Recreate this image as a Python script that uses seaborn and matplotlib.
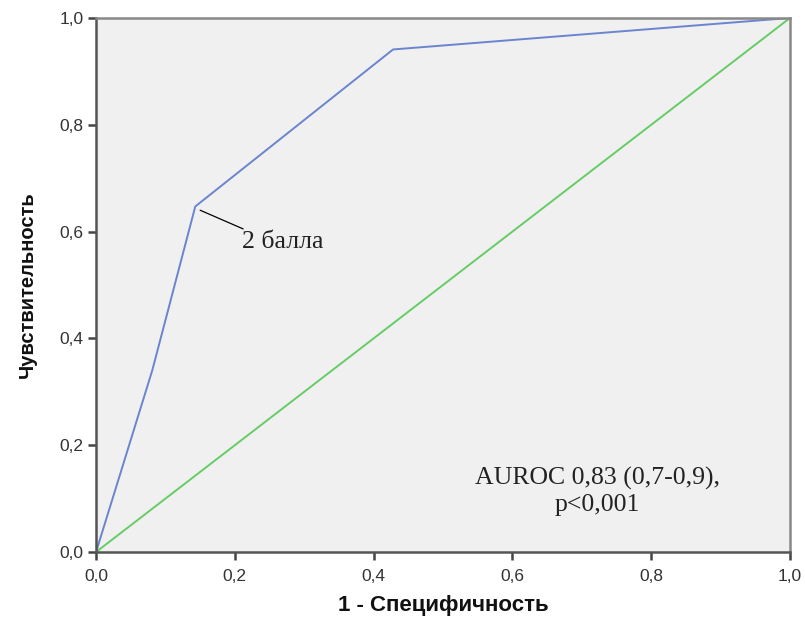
import matplotlib
matplotlib.use("Agg")
import matplotlib.pyplot as plt
import seaborn as sns
import pandas as pd

# ROC data
fpr = [0.0, 0.081, 0.143, 0.428, 1.0]
tpr = [0.0, 0.34, 0.647, 0.941, 1.0]
ref_x = [0.0, 1.0]
ref_y = [0.0, 1.0]
ticks = [0.0, 0.2, 0.4, 0.6, 0.8, 1.0]
tick_labels = ["0,0", "0,2", "0,4", "0,6", "0,8", "1,0"]
cut_label = "2 балла"
auc_text = "AUROC 0,83 (0,7-0,9),\np<0,001"

sns.set_theme(style="white")
plt.rcParams['font.family'] = ['Liberation Sans', 'DejaVu Sans']

fig = plt.figure(figsize=(8.05, 6.19), dpi=100)
ax = fig.add_axes([0.1193, 0.1082, 0.9814 - 0.1193, 0.971 - 0.1082])
ax.set_facecolor("#f0f0f0")

roc = pd.DataFrame({"x": fpr, "y": tpr})
ref = pd.DataFrame({"x": ref_x, "y": ref_y})
sns.lineplot(data=ref, x="x", y="y", ax=ax, color="#66cc66", linewidth=1.4,
             sort=False, estimator=None)
sns.lineplot(data=roc, x="x", y="y", ax=ax, color="#6b84cf", linewidth=1.4,
             sort=False, estimator=None)

ax.set_xlim(0, 1)
ax.set_ylim(0, 1)
ax.set_xticks(ticks)
ax.set_xticklabels(tick_labels)
ax.set_yticks(ticks)
ax.set_yticklabels(tick_labels)
ax.tick_params(axis="both", direction="out", length=6, width=1.8,
               color="#444444", labelsize=12.5, labelcolor="#333333", pad=3,
               bottom=True, left=True)
ax.tick_params(axis="x", pad=6)

for side in ["left", "bottom"]:
    ax.spines[side].set_color("#555555")
    ax.spines[side].set_linewidth(1.8)
for side in ["top", "right"]:
    ax.spines[side].set_color("#888888")
    ax.spines[side].set_linewidth(1.8)

ax.set_xlabel("1 - Специфичность", fontsize=16, fontweight="bold",
              color="#111111", labelpad=8)
ax.set_ylabel("Чувствительность", fontsize=14.5, fontweight="bold",
              color="#111111", labelpad=16)

# leader line and label for the cut-off point
ax.annotate("", xy=(0.150, 0.640), xytext=(0.212, 0.605),
            arrowprops=dict(arrowstyle="-", color="black", lw=0.9,
                            shrinkA=0, shrinkB=0))
ax.text(0.211, 0.569, cut_label, fontsize=18.5,
        family=["Liberation Serif", "DejaVu Serif"],
        color="#222222", ha="left", va="baseline")

ax.text(0.723, 0.114, auc_text, transform=ax.transAxes, ha="center",
        va="center", fontsize=18.5, family=["Liberation Serif", "DejaVu Serif"],
        color="#222222", linespacing=1.25)

fig.savefig("out.png", dpi=100)
